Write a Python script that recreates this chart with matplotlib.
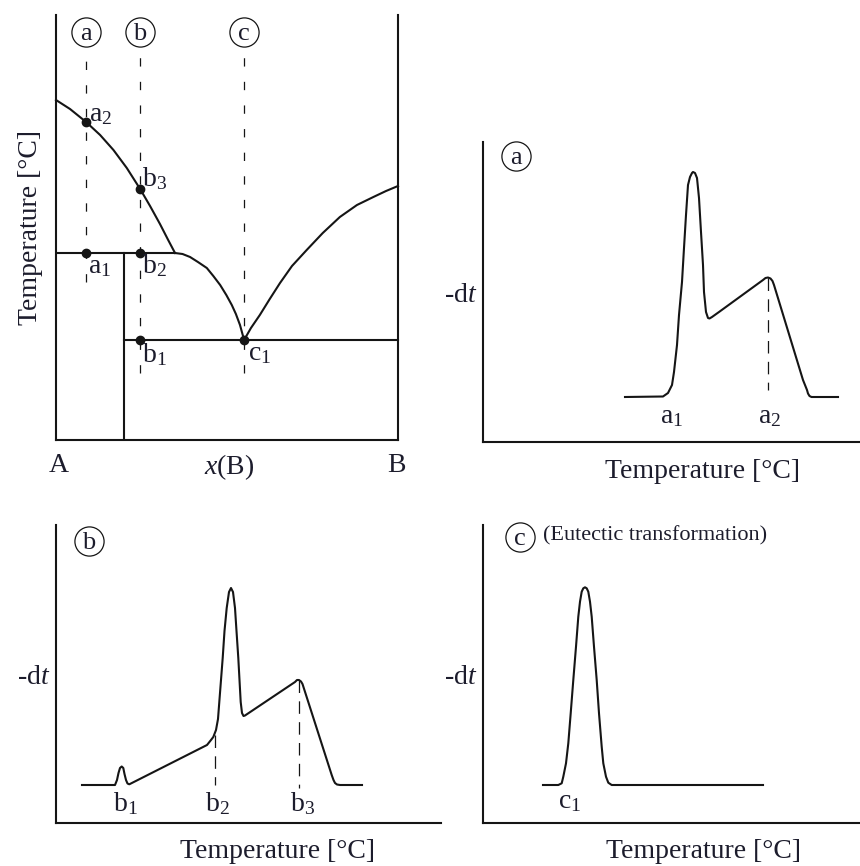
import matplotlib
matplotlib.use('Agg')
import matplotlib.pyplot as plt

plt.rcParams['font.family'] = ['Liberation Serif', 'DejaVu Serif']
plt.rcParams['mathtext.fontset'] = 'custom'
plt.rcParams['mathtext.rm'] = 'Liberation Serif'
plt.rcParams['mathtext.it'] = 'Liberation Serif:italic'
plt.rcParams['lines.scale_dashes'] = False

INK = '#151515'
TXT = '#1c1c2c'
LW = 1.5

# ---- phase diagram A-B: x(B) in %, temperature in arbitrary units ----
liq_A_x = [0, 4.1, 8.8, 12.9, 16.8, 20.7, 24.6, 27.5, 30.4, 32.8, 34.8]
liq_A_T = [340, 331, 318, 305, 290, 272, 251, 234, 216, 200, 187]
liq_mid_x = [34.8, 37.0, 39.2, 41.5, 44.1, 46.0, 48.0, 49.8, 51.4, 52.6, 53.8, 55.0]
liq_mid_T = [187, 186, 183, 178, 172, 164, 155, 145, 135, 126, 115, 100]
liq_B_x = [55.0, 57.0, 59.6, 62.5, 65.5, 69.0, 73.3, 78.0, 83.0, 88.0, 92.8, 96.5, 100]
liq_B_T = [100, 112, 125, 141, 157, 174, 190, 207, 223, 235, 243, 249, 254]

T_peritectic = 187      # horizontal at the end of the A-rich branch
T_eutectic = 100
x_phase = 19.9          # vertical phase boundary
x_cuts = {'a': 8.8, 'b': 24.6, 'c': 55.0}
cut_bottom = {'a': 158, 'b': 67, 'c': 67}
cut_top = 386
circle_T = 408

pd_points = {'a2': (8.8, 318), 'b3': (24.6, 251), 'a1': (8.8, 187),
             'b2': (24.6, 187), 'b1': (24.6, 100), 'c1': (55.0, 100)}
# label offsets in pixels (left/baseline anchored)
pd_label_off = {'a2': (3, 1), 'b3': (2, 3), 'a1': (2, -20),
                'b2': (2, -20), 'b1': (2, -22), 'c1': (4, -20)}

# ---- cooling curves (temperature vs -dt, arbitrary units) ----
a_T = [142, 180, 185, 189, 191, 194, 196, 199, 201, 203, 205, 207, 209, 210,
       212, 214, 216, 218, 220, 221, 223, 225, 226.5, 229, 236,
       280, 282.5, 285, 287.5, 289.5, 291, 320, 322, 324, 325, 326.5, 328.5, 355]
a_dt = [45, 45.5, 49, 57, 70, 97, 127, 160, 194, 227, 257, 265, 269, 270,
        269, 264, 244, 210, 177, 150, 130, 124, 123.5, 125, 130,
        162, 164, 164.5, 163.5, 161, 157, 62, 57, 52, 48.5, 46, 45, 45]
a_marks = {'a1': 177, 'a2': 275}
a_dash = (285, 164, 52)

b_T = [26, 59, 61, 62.5, 64, 65.7, 67.3, 68.5, 70, 71.5, 73.3,
       151, 155, 157.3, 160, 162, 163.3, 165, 166.7, 168.5, 170.7, 173, 175,
       177, 179, 180.5, 182.3, 183.5, 184.7, 186, 187.5, 189,
       239, 241, 243, 245, 246.5, 275.7, 277.5, 279, 281, 284, 306]
b_dt = [38, 38, 43, 50, 55, 56.5, 55, 49, 43, 39.5, 38.7,
        78, 83, 86, 93, 104, 121, 143, 165, 192, 215, 231, 235,
        231, 215, 192, 165, 143, 121, 110, 107, 107.5,
        141, 143, 143, 141.5, 139, 48, 43, 40, 38.5, 38, 38]
b_marks = {'b1': 57, 'b2': 149, 'b3': 234}
b_dashes = [(159, 88, 38), (243, 143, 35)]

c_T = [60, 75.3, 78.7, 80.3, 83, 85.3, 87.7, 90.3, 93, 95.3, 97, 98.7, 100.3,
       102, 103.7, 105.3, 107, 108.7, 111, 113.7, 116, 118.7, 120.3, 123,
       125.3, 128.7, 280]
c_dt = [38, 38, 39.7, 46.3, 59.7, 79.7, 109.7, 143, 176.3, 206.3, 221.3,
        231.3, 234.7, 235.7, 234.7, 231.3, 221.3, 206.3, 176.3, 143, 109.7,
        76.3, 59.7, 46.3, 40.3, 38, 38]
c_marks = {'c1': 75}

fig = plt.figure(figsize=(8.6, 8.66), dpi=100)
W, H = 860.0, 866.0


def add_panel(left, top, right, bottom, box=False):
    ax = fig.add_axes([left / W, (H - bottom) / H, (right - left) / W, (bottom - top) / H])
    ax.set_xticks([])
    ax.set_yticks([])
    ax.patch.set_visible(False)
    for s in ax.spines.values():
        s.set_linewidth(LW)
        s.set_color(INK)
    ax.spines['top'].set_visible(False)
    ax.spines['right'].set_visible(box)
    return ax


def circled(ax, x, y, letter, size=21):
    ax.plot([x], [y], marker='o', ms=size, mfc='white', mec=INK, mew=0.9,
            clip_on=False, zorder=3)
    ax.annotate(letter, (x, y), xytext=(0, -2), textcoords='offset pixels',
                ha='center', va='center', fontsize=19, color=TXT, zorder=4,
                annotation_clip=False)


def sub_label(name):
    return r'$\mathrm{%s}_%s$' % (name[0], name[1])


# phase diagram
ax = add_panel(56, 15, 398, 440, box=True)
ax.set_xlim(0, 100)
ax.set_ylim(0, 425)
for xs, ts in [(liq_A_x, liq_A_T), (liq_mid_x, liq_mid_T), (liq_B_x, liq_B_T)]:
    ax.plot(xs, ts, color=INK, lw=LW, clip_on=False, solid_joinstyle='round')
ax.plot([0, liq_A_x[-1]], [T_peritectic, T_peritectic], color=INK, lw=LW)
ax.plot([x_phase, x_phase], [0, T_peritectic], color=INK, lw=LW)
ax.plot([x_phase, 100], [T_eutectic, T_eutectic], color=INK, lw=LW, clip_on=False)
for key, xc in x_cuts.items():
    ax.plot([xc, xc], [cut_bottom[key], cut_top], color=INK, lw=0.9,
            ls=(0, (6, 11)))
    circled(ax, xc, circle_T, key)
for name, (px, pt) in pd_points.items():
    ax.plot([px], [pt], 'o', color=INK, ms=6, zorder=3)
    ax.annotate(sub_label(name), (px, pt),
                xytext=pd_label_off[name], textcoords='offset pixels',
                ha='left', va='baseline', fontsize=20, color=TXT)
ax.set_ylabel('Temperature [°C]', fontsize=20, color=TXT, labelpad=9)
ax.text(0.9, -25, 'A', ha='center', va='center', fontsize=20, color=TXT)
ax.text(50.5, -27, r'$x$(B)', ha='center', va='center', fontsize=20, color=TXT)
ax.text(99.5, -25, 'B', ha='center', va='center', fontsize=20, color=TXT)


def dta_axes(ax, x0):
    ax.set_xlabel('Temperature [°C]', fontsize=20, color=TXT)
    ax.xaxis.set_label_coords(x0, -0.055)
    ax.text(-6, 146, r'-d$t$', ha='right', va='center', fontsize=20, color=TXT)


# (a) cooling curve
ax = add_panel(483, 142, 860, 442)
ax.set_xlim(0, 377)
ax.set_ylim(0, 300)
ax.plot(a_T, a_dt, color=INK, lw=LW, solid_joinstyle='round')
ax.plot([a_dash[0]] * 2, [a_dash[1], a_dash[2]], color=INK, lw=0.9, ls=(0, (9, 6)))
for name, xl in a_marks.items():
    ax.text(xl, 19, sub_label(name), ha='left', va='baseline', fontsize=20, color=TXT)
circled(ax, 33, 286, 'a')
dta_axes(ax, 219.5 / 377)

# (b) cooling curve
ax = add_panel(56, 525, 441, 823)
ax.set_xlim(0, 385)
ax.set_ylim(0, 298)
ax.plot(b_T, b_dt, color=INK, lw=LW, solid_joinstyle='round')
for xd, top, bot in b_dashes:
    ax.plot([xd, xd], [top, bot], color=INK, lw=0.9, ls=(0, (9, 6)))
for name, xl in b_marks.items():
    ax.text(xl, 12, sub_label(name), ha='left', va='baseline', fontsize=20, color=TXT)
circled(ax, 33, 282, 'b')
dta_axes(ax, 221 / 385)

# (c) cooling curve
ax = add_panel(483, 525, 860, 823)
ax.set_xlim(0, 377)
ax.set_ylim(0, 298)
ax.plot(c_T, c_dt, color=INK, lw=LW, solid_joinstyle='round')
for name, xl in c_marks.items():
    ax.text(xl, 15, sub_label(name), ha='left', va='baseline', fontsize=20, color=TXT)
circled(ax, 37, 286, 'c')
ax.text(60, 287, '(Eutectic transformation)', ha='left', va='center',
        fontsize=16, color=TXT)
dta_axes(ax, 221 / 377)

fig.savefig('out.png', dpi=100)
